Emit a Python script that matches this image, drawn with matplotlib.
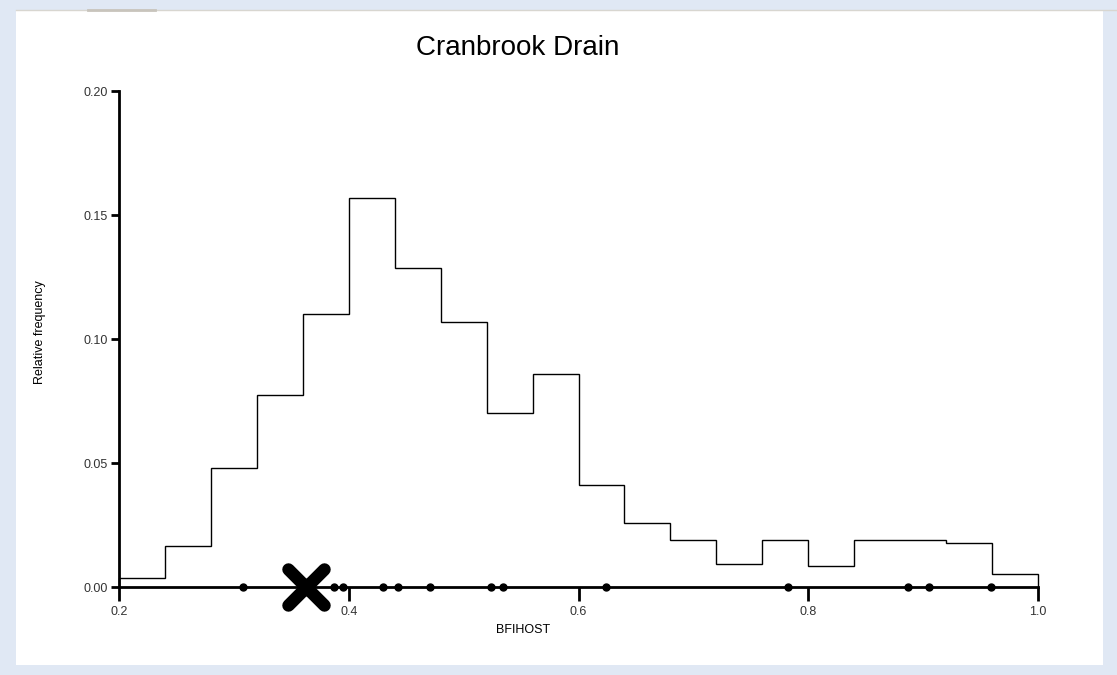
import matplotlib.pyplot as plt
from matplotlib.markers import MarkerStyle
from matplotlib.patches import Rectangle
from matplotlib.lines import Line2D

plt.rcParams["font.family"] = ["Liberation Sans", "DejaVu Sans"]

# histogram of BFIHOST, bin width 0.04
bin_edges = [0.20, 0.24, 0.28, 0.32, 0.36, 0.40, 0.44, 0.48, 0.52, 0.56, 0.60,
             0.64, 0.68, 0.72, 0.76, 0.80, 0.84, 0.88, 0.92, 0.96, 1.00]
rel_freq = [0.0036, 0.0165, 0.048, 0.0774, 0.110, 0.157, 0.1286, 0.107, 0.070, 0.086,
            0.041, 0.026, 0.019, 0.0093, 0.019, 0.0085, 0.019, 0.019, 0.0177, 0.0052]

# pooling group donor catchments
group_bfihost = [0.308, 0.387, 0.395, 0.430, 0.443, 0.471, 0.524, 0.534,
                 0.624, 0.782, 0.887, 0.905, 0.959]
subject_bfihost = 0.363

x_ticks = [0.2, 0.4, 0.6, 0.8, 1.0]
y_ticks = [0.00, 0.05, 0.10, 0.15, 0.20]

fig = plt.figure(figsize=(11.17, 6.75), dpi=100)
fig.patch.set_facecolor("#e0e8f4")

# white panel + thin top strip
fig.patches.append(Rectangle((16 / 1117, 10 / 675), (1103 - 16) / 1117, (665 - 10) / 675,
                             transform=fig.transFigure, facecolor="white", edgecolor="none", zorder=-5))
fig.lines.append(Line2D([16 / 1117, 1117 / 1117], [1 - 10 / 675, 1 - 10 / 675],
                        transform=fig.transFigure, color="#d8d6d0", lw=1, zorder=-4))
fig.lines.append(Line2D([88 / 1117, 155 / 1117], [1 - 10 / 675, 1 - 10 / 675],
                        transform=fig.transFigure, color="#c8c4bc", lw=2, zorder=-4))

ax = fig.add_axes([119 / 1117, 1 - 587 / 675, (1038 - 119) / 1117, (587 - 91) / 675])
ax.set_zorder(2)
ax.set_facecolor("none")

ax.stairs(rel_freq, bin_edges, baseline=0, color="black", lw=1, clip_on=False)

ax.plot(group_bfihost, [0] * len(group_bfihost), "o", color="black", ms=5, clip_on=False, zorder=5)
cross = MarkerStyle("x", capstyle="round")
ax.plot([subject_bfihost], [0], marker=cross, color="black", ms=26, mew=9, clip_on=False, zorder=6)

ax.set_xlim(0.2, 1.0)
ax.set_ylim(0, 0.2)
ax.set_xticks(x_ticks)
ax.set_xticklabels([f"{v:.1f}" for v in x_ticks])
ax.set_yticks(y_ticks)
ax.set_yticklabels([f"{v:.2f}" for v in y_ticks])

for side in ["top", "right"]:
    ax.spines[side].set_visible(False)
for side in ["left", "bottom"]:
    ax.spines[side].set_linewidth(2)
ax.tick_params(axis="x", length=10, width=2, labelsize=9, labelcolor="#333333", pad=4)
ax.tick_params(axis="y", length=6, width=2, labelsize=9, labelcolor="#333333", pad=2)

fig.text(518 / 1117, 1 - 48 / 675, "Cranbrook Drain", ha="center", va="center", fontsize=20)
fig.text(523 / 1117, 1 - 630 / 675, "BFIHOST", ha="center", va="center", fontsize=9)
fig.text(40 / 1117, 1 - 332 / 675, "Relative frequency", ha="center", va="center",
         rotation=90, fontsize=9)

fig.savefig("out.png", dpi=100)
